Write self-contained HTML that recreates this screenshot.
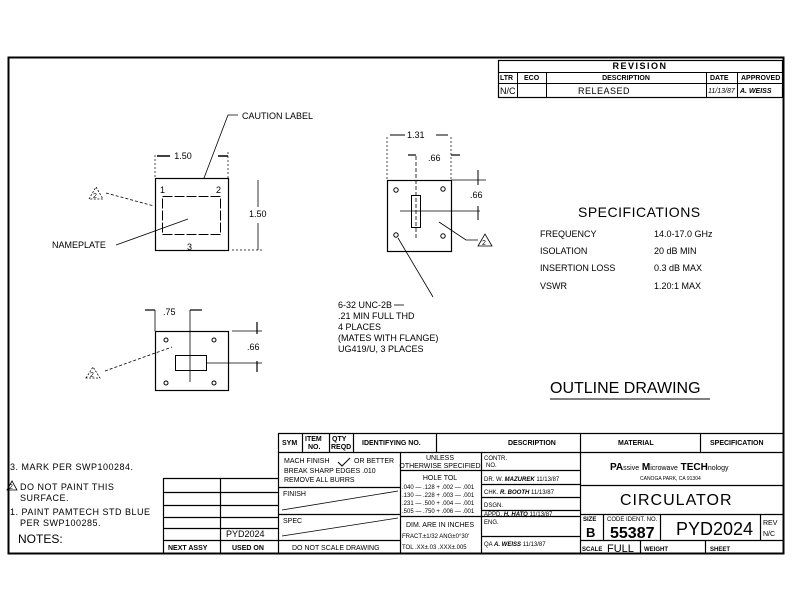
<!DOCTYPE html>
<html><head><meta charset="utf-8"><style>
html,body{margin:0;padding:0;background:#fff;}
svg{display:block;}
text{font-family:"Liberation Sans",sans-serif;fill:#000;}
.s{font-size:9px;}
.t{font-size:7px;}
.b{font-weight:bold;}
</style></head><body>
<svg width="792" height="612" viewBox="0 0 792 612" xmlns="http://www.w3.org/2000/svg">
<g fill="none" stroke="#000">
<!-- border -->
<rect x="8.5" y="57.5" width="775" height="496" stroke-width="2"/>
<!-- revision block -->
<rect x="498.5" y="60.5" width="284" height="37" stroke-width="1.2"/>
<line x1="498" y1="72.5" x2="783" y2="72.5"/>
<line x1="498" y1="83.5" x2="783" y2="83.5"/>
<line x1="517.5" y1="72" x2="517.5" y2="97"/>
<line x1="546.5" y1="72" x2="546.5" y2="97"/>
<line x1="706.5" y1="72" x2="706.5" y2="97"/>
<line x1="737.5" y1="72" x2="737.5" y2="97"/>

<!-- title block -->
<g stroke-width="1.2">
<line x1="278" y1="433.5" x2="783" y2="433.5"/>
<line x1="278.5" y1="433" x2="278.5" y2="553"/>
<line x1="278" y1="452.5" x2="783" y2="452.5"/>
<line x1="302.5" y1="433" x2="302.5" y2="452"/>
<line x1="329.5" y1="433" x2="329.5" y2="452"/>
<line x1="353.5" y1="433" x2="353.5" y2="452"/>
<line x1="436.5" y1="433" x2="436.5" y2="452"/>
<line x1="580.5" y1="433" x2="580.5" y2="553"/>
<line x1="700.5" y1="433" x2="700.5" y2="452"/>
<line x1="400.5" y1="452" x2="400.5" y2="553"/>
<line x1="481.5" y1="452" x2="481.5" y2="553"/>
<line x1="278" y1="487.5" x2="400" y2="487.5"/>
<line x1="278" y1="514.5" x2="400" y2="514.5"/>
<line x1="278" y1="540.5" x2="400" y2="540.5"/>
<line x1="400" y1="470.5" x2="481" y2="470.5"/>
<line x1="400" y1="516.5" x2="481" y2="516.5"/>
<line x1="481" y1="470.5" x2="580" y2="470.5"/>
<line x1="481" y1="484.5" x2="580" y2="484.5"/>
<line x1="481" y1="497.5" x2="580" y2="497.5"/>
<line x1="481" y1="510.5" x2="580" y2="510.5"/>
<line x1="481" y1="516.5" x2="580" y2="516.5"/>
<line x1="481" y1="536.5" x2="580" y2="536.5"/>
<line x1="580" y1="485.5" x2="783" y2="485.5"/>
<line x1="580" y1="514.5" x2="783" y2="514.5"/>
<line x1="580" y1="540.5" x2="783" y2="540.5"/>
<line x1="603.5" y1="514" x2="603.5" y2="540"/>
<line x1="660.5" y1="514" x2="660.5" y2="540"/>
<line x1="760.5" y1="514" x2="760.5" y2="540"/>
<line x1="640.5" y1="540" x2="640.5" y2="553"/>
<line x1="705.5" y1="540" x2="705.5" y2="553"/>
</g>
<line x1="282" y1="510" x2="398" y2="491" stroke-width="0.8"/>
<line x1="282" y1="536" x2="398" y2="518" stroke-width="0.8"/>
<path d="M338 462 l4 4 l8 -8" stroke-width="1"/>

<!-- next assy table -->
<g stroke-width="1.2">
<line x1="163.5" y1="478" x2="163.5" y2="553"/>
<line x1="220.5" y1="478" x2="220.5" y2="553"/>
<line x1="163" y1="478.5" x2="278" y2="478.5"/>
<line x1="163" y1="492.5" x2="278" y2="492.5"/>
<line x1="163" y1="505.5" x2="278" y2="505.5"/>
<line x1="163" y1="517.5" x2="278" y2="517.5"/>
<line x1="163" y1="528.5" x2="278" y2="528.5"/>
<line x1="163" y1="540.5" x2="278" y2="540.5"/>
</g>

<!-- view 1 -->
<rect x="155.5" y="178.5" width="73" height="72" stroke-width="1.2"/>
<rect x="162.5" y="196.5" width="58" height="38" stroke-width="1" stroke-dasharray="10,2"/>
<line x1="155" y1="155" x2="155" y2="178" stroke-dasharray="2,2" stroke-width="0.7"/>
<line x1="228" y1="152" x2="228" y2="178" stroke-dasharray="2,2" stroke-width="0.7"/>
<line x1="157" y1="156" x2="170" y2="156" stroke-width="1.5"/>
<line x1="218" y1="156" x2="228" y2="156" stroke-width="1.5"/>
<line x1="232" y1="250" x2="262" y2="250" stroke-dasharray="2,2" stroke-width="0.7"/>
<line x1="258" y1="180" x2="258" y2="207" stroke-width="0.8"/>
<line x1="258" y1="223" x2="258" y2="250" stroke-width="0.8"/>
<polyline points="204,178 228,115 238,115" stroke-width="0.8"/>
<line x1="106" y1="193" x2="154" y2="206" stroke-dasharray="3,2" stroke-width="0.8"/>
<line x1="116" y1="245" x2="188" y2="219" stroke-width="0.8"/>
<path d="M89 199 L96 187 L103 199 Z" stroke-dasharray="2,1.5" stroke-width="0.8"/>

<!-- view 2 -->
<rect x="387.5" y="180.5" width="64" height="71" stroke-width="1.2"/>
<rect x="411.5" y="195.5" width="9" height="32" stroke-width="1"/>
<line x1="416" y1="156" x2="416" y2="240" stroke-dasharray="4,2" stroke-width="0.8"/>
<line x1="400" y1="211" x2="480" y2="211" stroke-width="0.8"/>
<line x1="451" y1="180" x2="486" y2="180" stroke-width="0.8"/>
<line x1="478" y1="170" x2="478" y2="185" stroke-width="1"/>
<line x1="478" y1="206" x2="478" y2="220" stroke-width="1"/>
<line x1="387" y1="137" x2="387" y2="180" stroke-dasharray="2,2" stroke-width="0.7"/>
<line x1="451" y1="137" x2="451" y2="180" stroke-dasharray="2,2" stroke-width="0.7"/>
<line x1="390" y1="135" x2="405" y2="135" stroke-width="1"/>
<line x1="436" y1="135" x2="448" y2="135" stroke-width="1"/>
<line x1="408" y1="155" x2="416" y2="155" stroke-width="1.2"/>
<line x1="451" y1="155" x2="460" y2="155" stroke-width="1.2"/>
<circle cx="396" cy="190" r="2.2"/><circle cx="443" cy="189" r="2.2"/>
<circle cx="443" cy="236" r="2.2"/><circle cx="396" cy="235" r="2.2"/>
<line x1="398" y1="238" x2="433" y2="297" stroke-width="0.8"/>
<line x1="394" y1="305" x2="404" y2="305" stroke-width="0.8"/>
<polyline points="439,222 466,240 478,240" stroke-width="0.8"/>
<path d="M478 246 L485 234 L492 246 Z" stroke-width="0.8"/>

<!-- view 3 -->
<rect x="155.5" y="331.5" width="73" height="59" stroke-width="1.2"/>
<rect x="175.5" y="355.5" width="31" height="15" stroke-width="1"/>
<line x1="190" y1="310" x2="190" y2="382" stroke-width="0.8"/>
<line x1="155" y1="310" x2="155" y2="331" stroke-width="0.8"/>
<line x1="145" y1="310" x2="155" y2="310" stroke-width="1.2"/>
<line x1="190" y1="310" x2="202" y2="310" stroke-width="1.2"/>
<line x1="232" y1="331" x2="262" y2="331" stroke-width="0.8"/>
<line x1="207" y1="363" x2="262" y2="363" stroke-width="0.8"/>
<line x1="257" y1="322" x2="257" y2="334" stroke-width="1.2"/>
<line x1="257" y1="361" x2="257" y2="372" stroke-width="1.2"/>
<circle cx="166" cy="340" r="2"/><circle cx="214" cy="340" r="2"/>
<circle cx="166" cy="383" r="2"/><circle cx="214" cy="383" r="2"/>
<line x1="105" y1="371" x2="172" y2="347" stroke-dasharray="3,2" stroke-width="0.8"/>
<path d="M86 378 L93 367 L100 378 Z" stroke-dasharray="2,1.5" stroke-width="0.8"/>
<path d="M7 490 L12 481 L17 490 Z" stroke-width="0.8"/>
<line x1="550" y1="399" x2="710" y2="399" stroke-width="1"/>
</g>

<!-- texts -->
<text x="640" y="69" class="s b" text-anchor="middle" letter-spacing="1.5">REVISION</text>
<text x="500" y="80" class="t b">LTR</text>
<text x="524" y="80" class="t b">ECO</text>
<text x="626" y="80" class="t b" text-anchor="middle">DESCRIPTION</text>
<text x="710" y="80" class="t b">DATE</text>
<text x="741" y="80" class="t b">APPROVED</text>
<text x="500" y="94" class="s">N/C</text>
<text x="578" y="94" class="s" letter-spacing="0.5">RELEASED</text>
<text x="708" y="93" class="t" font-style="italic">11/13/87</text>
<text x="740" y="93" class="t b" font-style="italic">A. WEISS</text>

<text x="242" y="119" class="s">CAUTION LABEL</text>
<text x="183" y="159" class="s" text-anchor="middle">1.50</text>
<text x="160" y="193" class="s">1</text>
<text x="216" y="193" class="s">2</text>
<text x="187" y="250" class="s">3</text>
<text x="249" y="217" class="s">1.50</text>
<text x="52" y="248" class="s">NAMEPLATE</text>
<text x="93" y="198" class="t">2</text>

<text x="407" y="138" class="s">1.31</text>
<text x="428" y="161" class="s">.66</text>
<text x="470" y="198" class="s">.66</text>
<text x="482" y="245" class="t">2</text>

<text x="163" y="315" class="s">.75</text>
<text x="247" y="350" class="s">.66</text>
<text x="90" y="377" class="t">2</text>

<text x="338" y="308" class="s">6-32 UNC-2B</text>
<text x="338" y="319" class="s">.21 MIN FULL THD</text>
<text x="338" y="330" class="s">4 PLACES</text>
<text x="338" y="341" class="s">(MATES WITH FLANGE)</text>
<text x="338" y="352" class="s">UG419/U, 3 PLACES</text>

<text x="578" y="217" font-size="14" letter-spacing="0.5">SPECIFICATIONS</text>
<text x="540" y="237" class="s">FREQUENCY</text>
<text x="654" y="237" class="s">14.0-17.0 GHz</text>
<text x="540" y="254" class="s">ISOLATION</text>
<text x="654" y="254" class="s">20 dB MIN</text>
<text x="540" y="271" class="s">INSERTION LOSS</text>
<text x="654" y="271" class="s">0.3 dB MAX</text>
<text x="540" y="289" class="s">VSWR</text>
<text x="654" y="289" class="s">1.20:1 MAX</text>
<text x="550" y="393" font-size="16">OUTLINE DRAWING</text>

<text x="10" y="470" class="s" letter-spacing="0.5">3. MARK PER SWP100284.</text>
<text x="9" y="489" class="t">2</text>
<text x="20" y="490" class="s" letter-spacing="0.5">DO NOT PAINT THIS</text>
<text x="20" y="501" class="s" letter-spacing="0.5">SURFACE.</text>
<text x="10" y="515" class="s" letter-spacing="0.5">1. PAINT PAMTECH STD BLUE</text>
<text x="20" y="526" class="s" letter-spacing="0.5">PER SWP100285.</text>
<text x="18" y="543" font-size="12">NOTES:</text>
<text x="226" y="537" class="s">PYD2024</text>
<text x="168" y="550" class="t b">NEXT ASSY</text>
<text x="232" y="550" class="t b">USED ON</text>

<text x="282" y="445" class="t b">SYM</text>
<text x="305" y="441" class="t b">ITEM</text>
<text x="308" y="449" class="t b">NO.</text>
<text x="332" y="441" class="t b">QTY</text>
<text x="331" y="449" class="t b">REQD</text>
<text x="362" y="445" class="t b">IDENTIFYING NO.</text>
<text x="508" y="445" class="t b">DESCRIPTION</text>
<text x="618" y="445" class="t b">MATERIAL</text>
<text x="710" y="445" class="t b">SPECIFICATION</text>
<text x="284" y="463" class="t">MACH FINISH</text>
<text x="354" y="463" class="t">OR BETTER</text>
<text x="284" y="473" class="t">BREAK SHARP EDGES .010</text>
<text x="284" y="482" class="t">REMOVE ALL BURRS</text>
<text x="283" y="496" class="t">FINISH</text>
<text x="283" y="523" class="t">SPEC</text>
<text x="292" y="550" class="t">DO NOT SCALE DRAWING</text>
<text x="440" y="460" class="t" text-anchor="middle">UNLESS</text>
<text x="440" y="468" class="t" text-anchor="middle">OTHERWISE SPECIFIED</text>
<text x="440" y="480" class="t" text-anchor="middle">HOLE TOL</text>
<text x="402" y="489" font-size="6">.040 — .128 + .002 — .001</text>
<text x="402" y="497" font-size="6">.130 — .228 + .003 — .001</text>
<text x="402" y="505" font-size="6">.231 — .500 + .004 — .001</text>
<text x="402" y="513" font-size="6">.505 — .750 + .006 — .001</text>
<text x="440" y="527" class="t" text-anchor="middle">DIM. ARE IN INCHES</text>
<text x="402" y="538" font-size="6">FRACT.±1/32 ANG±0°30'</text>
<text x="402" y="549" font-size="6">TOL .XX±.03  .XXX±.005</text>
<text x="484" y="460" font-size="6">CONTR.</text>
<text x="486" y="467" font-size="6">NO.</text>
<text x="484" y="481" font-size="6">DR. W. <tspan font-style="italic" font-weight="bold">MAZUREK</tspan> 11/13/87</text>
<text x="484" y="494" font-size="6">CHK. <tspan font-style="italic" font-weight="bold">R. BOOTH</tspan>  11/13/87</text>
<text x="484" y="507" font-size="6">DSGN.</text>
<text x="484" y="516" font-size="6">APPD. <tspan font-style="italic" font-weight="bold">H. HATO</tspan>  11/13/87</text>
<text x="484" y="524" font-size="6">ENG.</text>
<text x="484" y="546" font-size="6">QA  <tspan font-style="italic" font-weight="bold">A. WEISS</tspan>  11/13/87</text>
<text x="610" y="470" font-size="10" class="b">PA<tspan font-size="7" font-weight="normal">ssive</tspan> M<tspan font-size="7" font-weight="normal">icrowave</tspan> TECH<tspan font-size="7" font-weight="normal">nology</tspan></text>
<text x="640" y="480" font-size="5">CANOGA PARK, CA 91304</text>
<text x="620" y="505" font-size="16" letter-spacing="1">CIRCULATOR</text>
<text x="583" y="521" font-size="6" class="b">SIZE</text>
<text x="586" y="537" font-size="13" class="b">B</text>
<text x="607" y="521" font-size="6">CODE IDENT. NO.</text>
<text x="610" y="538" font-size="16" class="b">55387</text>
<text x="676" y="535" font-size="18">PYD2024</text>
<text x="763" y="525" font-size="7">REV</text>
<text x="763" y="536" font-size="7">N/C</text>
<text x="582" y="551" font-size="6" class="b">SCALE</text>
<text x="607" y="552" font-size="11">FULL</text>
<text x="644" y="551" font-size="6" class="b">WEIGHT</text>
<text x="710" y="551" font-size="6" class="b">SHEET</text>
</svg>
</body></html>
